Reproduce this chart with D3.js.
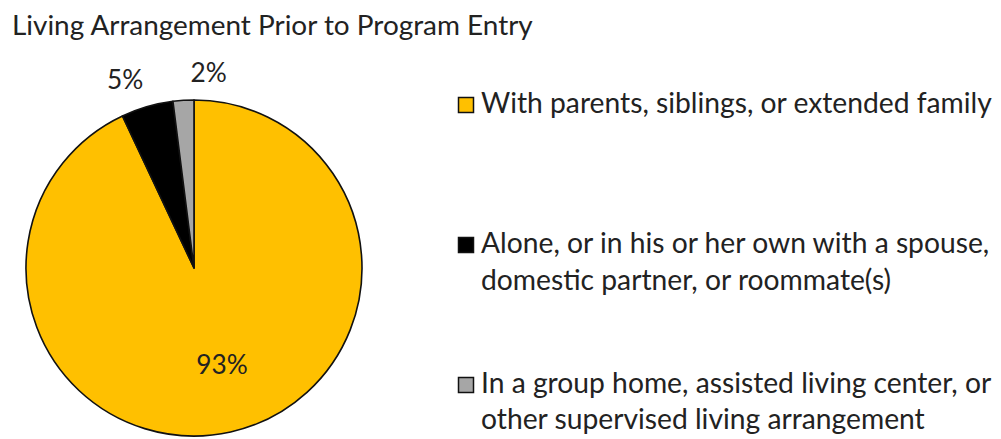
<!DOCTYPE html>
<html>
<head>
<meta charset="utf-8">
<script src="https://cdn.jsdelivr.net/npm/d3@7"></script>
<style>
  html, body { margin: 0; padding: 0; background: #fff; }
  svg { display: block; }
  text { font-family: Lato, "Open Sans", sans-serif; fill: #222; }
</style>
</head>
<body>
<svg id="chart" width="1001" height="439"></svg>
<script>
// Living arrangement shares (percent)
const categories = [
  "With parents, siblings, or extended family",
  "Alone, or in his or her own with a spouse, domestic partner, or roommate(s)",
  "In a group home, assisted living center, or other supervised living arrangement"
];
const values = [93, 5, 2];
const legendLines = [
  ["With parents, siblings, or extended family"],
  ["Alone, or in his or her own with a spouse,", "domestic partner, or roommate(s)"],
  ["In a group home, assisted living center, or", "other supervised living arrangement"]
];
const colors = ["#FFC000", "#000000", "#A6A6A6"];
const title = "Living Arrangement Prior to Program Entry";

const svg = d3.select("#chart");

// size a text node's font so it spans a given width
function fitFont(sel, targetWidth, base) {
  sel.style("font-size", base + "px");
  const w = sel.node().getComputedTextLength();
  const size = base * targetWidth / w;
  sel.style("font-size", size + "px");
  return size;
}

// Title
const titleText = svg.append("text")
  .attr("x", 12).attr("y", 35)
  .text(title);
fitFont(titleText, 521, 22);

// Pie
const cx = 194, cy = 268, r = 168;
const color = d3.scaleOrdinal().domain(categories).range(colors);
const pie = d3.pie().sort(null).value(d => d.value);
const data = categories.map((c, i) => ({ cat: c, value: values[i] }));
const arcs = pie(data);
const arc = d3.arc().innerRadius(0).outerRadius(r);

const g = svg.append("g").attr("transform", `translate(${cx},${cy})`);
g.selectAll("path.slice")
  .data(arcs)
  .enter().append("path")
  .attr("class", "slice")
  .attr("d", arc)
  .attr("fill", d => color(d.data.cat))
  .attr("stroke", "#111")
  .attr("stroke-width", 1.6)
  .attr("stroke-linejoin", "round");

// Legend
const legendX = 458, textX = 481, box = 15;
const baselines = [[113], [253, 290], [393, 429]];
const legend = svg.append("g");
let legendSize = 24;
{
  const probe = legend.append("text").attr("x", textX).attr("y", -50).text(legendLines[0][0]);
  legendSize = fitFont(probe, 511, 24);
  probe.remove();
}
legendLines.forEach((lines, i) => {
  const b0 = baselines[i][0];
  legend.append("rect")
    .attr("x", legendX + 0.5).attr("y", b0 - 16 + 0.5)
    .attr("width", box).attr("height", box)
    .attr("fill", colors[i])
    .attr("stroke", "#111").attr("stroke-width", 1.5);
  lines.forEach((ln, j) => {
    legend.append("text")
      .attr("x", textX).attr("y", baselines[i][j])
      .style("font-size", legendSize + "px")
      .text(ln);
  });
});

// Data labels: large slice inside, small slices outside, pushed apart sideways
const labelSize = legendSize * 0.93;
const inner = d3.arc().innerRadius(r * 0.6).outerRadius(r * 0.6);
const outer = d3.arc().innerRadius(r * 1.17).outerRadius(r * 1.17);
const spread = [6, -14, 27];
arcs.forEach((a, i) => {
  const isBig = a.data.value > 20;
  const [x, y] = isBig ? inner.centroid(a) : outer.centroid(a);
  g.append("text")
    .attr("x", x + spread[i])
    .attr("y", y + (isBig ? -2 : 0))
    .attr("text-anchor", "middle")
    .attr("dominant-baseline", "central")
    .style("font-size", labelSize + "px")
    .text(a.data.value + "%");
});
</script>
</body>
</html>
